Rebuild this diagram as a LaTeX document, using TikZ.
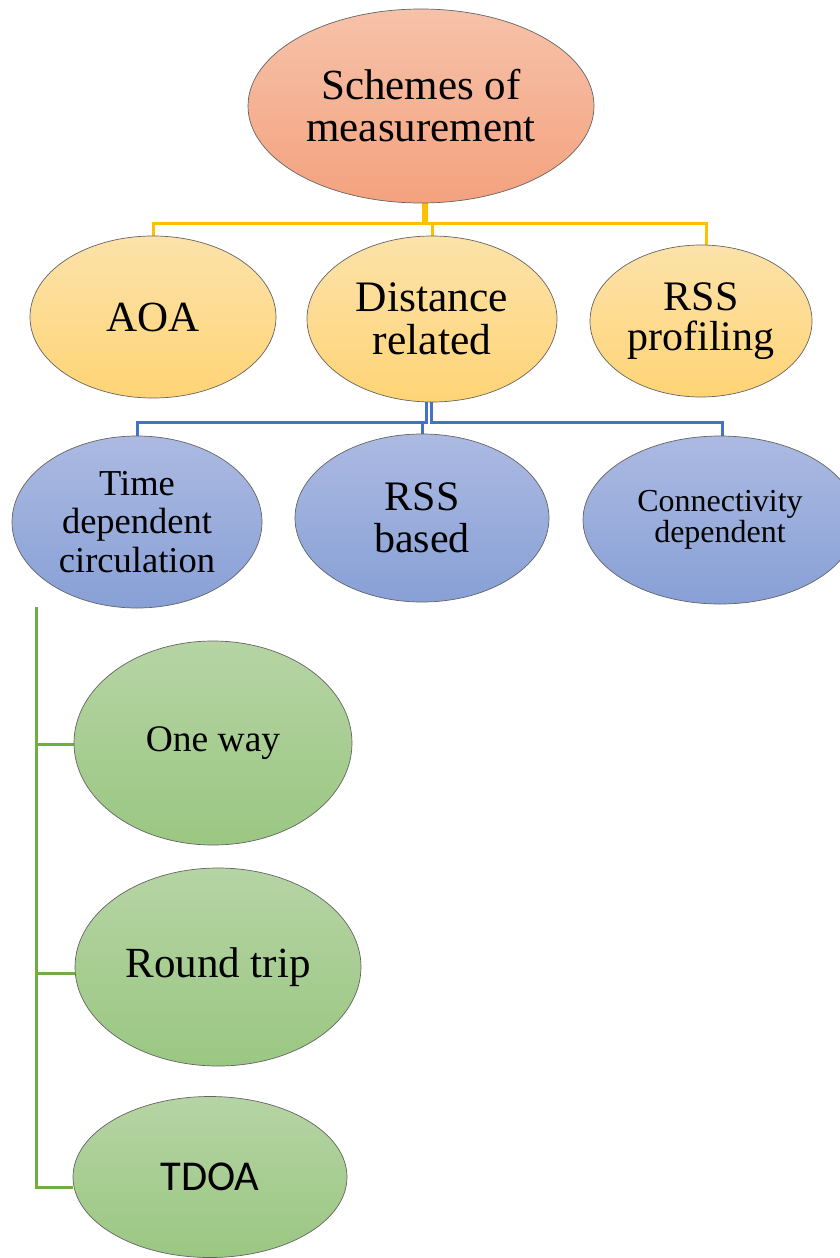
\documentclass[tikz,border=0pt]{standalone}
\usepackage{fontspec}
\setmainfont{Liberation Serif}
\newfontfamily\calib{Carlito}
\usetikzlibrary{shapes.geometric,backgrounds}
\definecolor{rootT}{RGB}{246,194,170}
\definecolor{rootB}{RGB}{244,162,126}
\definecolor{yelT}{RGB}{252,226,170}
\definecolor{yelB}{RGB}{255,212,118}
\definecolor{bluT}{RGB}{172,186,226}
\definecolor{bluB}{RGB}{136,160,214}
\definecolor{grnT}{RGB}{182,212,164}
\definecolor{grnB}{RGB}{154,199,130}
\definecolor{yline}{RGB}{255,192,0}
\definecolor{bline}{RGB}{68,114,196}
\definecolor{gline}{RGB}{112,173,71}
\definecolor{edge}{RGB}{100,100,100}
\tikzset{
  oval/.style={ellipse, inner sep=0pt, draw=edge, line width=0.7pt, align=center},
  rootoval/.style={oval, top color=rootT, bottom color=rootB},
  yeloval/.style={oval, top color=yelT, bottom color=yelB},
  bluoval/.style={oval, top color=bluT, bottom color=bluB},
  grnoval/.style={oval, top color=grnT, bottom color=grnB},
  yconn/.style={draw=yline, line width=3pt},
  bconn/.style={draw=bline, line width=3pt},
  gconn/.style={draw=gline, line width=3pt},
}
\begin{document}
\begin{tikzpicture}[x=1pt,y=-1pt]
\useasboundingbox (0,0) rectangle (840,1258);
% level 0
\node[rootoval, minimum width=346pt, minimum height=194pt,
  font=\fontsize{43}{42}\selectfont] (root) at (421,106) {Schemes of\\measurement};
% level 1
\node[yeloval, minimum width=246pt, minimum height=162pt,
  font=\fontsize{43}{43}\selectfont] (aoa) at (153,317) {AOA};
\node[yeloval, minimum width=250pt, minimum height=166pt,
  font=\fontsize{43.5}{43}\selectfont] (dist) at (432,319) {Distance\\related};
\node[yeloval, minimum width=222pt, minimum height=152pt,
  font=\fontsize{42}{40}\selectfont] (rssp) at (701,321) {RSS\\profiling};
% level 2
\node[bluoval, minimum width=250pt, minimum height=172pt,
  font=\fontsize{36.5}{38.5}\selectfont] (time) at (137,522) {Time\\dependent\\circulation};
\node[bluoval, minimum width=254pt, minimum height=168pt,
  font=\fontsize{42}{42}\selectfont] (rssb) at (422,518) {RSS\\based};
\node[bluoval, minimum width=274pt, minimum height=168pt,
  font=\fontsize{32}{31}\selectfont] (conn) at (720,520) {Connectivity\\dependent};
% level 3
\node[grnoval, minimum width=278pt, minimum height=204pt,
  font=\fontsize{37.5}{40}\selectfont] (one) at (213,743) {One way};
\node[grnoval, minimum width=286pt, minimum height=198pt,
  font=\fontsize{43}{44}\selectfont] (round) at (218,967) {Round trip};
\node[grnoval, minimum width=274pt, minimum height=161pt,
  font=\calib\fontsize{42.5}{44}\selectfont] (tdoa) at (210,1177) {TDOA};
\coordinate (gtop) at (36,607);
% connectors
\begin{scope}[on background layer]
\draw[yconn] ([xshift=2pt]root.south) -- ++(0,20) -| (aoa.north);
\draw[yconn] ([xshift=2pt]root.south) -- ++(0,20) -| (dist.north);
\draw[yconn] ([xshift=5pt]root.south) -- ++(0,20) -| ([xshift=5pt]rssp.north);
\draw[bconn] ([xshift=-6pt]dist.south) -- ++(0,20) -| (time.north);
\draw[bconn] ([xshift=-6pt]dist.south) -- ++(0,20) -| (rssb.north);
\draw[bconn] ([xshift=-1pt]dist.south) -- ++(0,20) -| ([xshift=2pt]conn.north);
\draw[gconn] (gtop) |- ([yshift=-1pt]one.west);
\draw[gconn] (gtop) |- ([yshift=-6pt]round.west);
\draw[gconn] (gtop) |- ([yshift=-10pt]tdoa.west);
\end{scope}
\end{tikzpicture}
\end{document}
